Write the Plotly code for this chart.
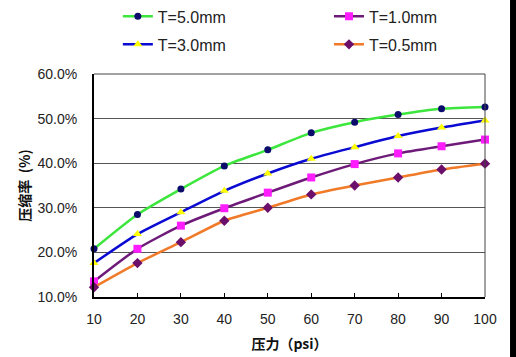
import plotly.graph_objects as go

pressure = [10, 20, 30, 40, 50, 60, 70, 80, 90, 100]
t50 = [20.8, 28.5, 34.2, 39.4, 43.0, 46.8, 49.2, 50.9, 52.2, 52.6]
t30 = [17.6, 24.1, 29.0, 33.8, 37.7, 41.0, 43.6, 46.1, 48.0, 49.6]
t10 = [13.5, 20.8, 26.0, 29.9, 33.4, 36.8, 39.8, 42.2, 43.8, 45.3]
t05 = [12.2, 17.6, 22.3, 27.1, 30.0, 33.0, 35.0, 36.8, 38.6, 39.9]
names = ["T=5.0mm", "T=1.0mm", "T=3.0mm", "T=0.5mm"]
y_ticks = [10, 20, 30, 40, 50, 60]

fig = go.Figure()
series = [
    (names[0], t50, "#3ce63c", "#0b0b6b", "circle", 7, "legend"),
    (names[1], t10, "#6e1a78", "#ff1cff", "square", 8, "legend2"),
    (names[2], t30, "#0a0ad2", "#ffff00", "triangle-up", 8, "legend3"),
    (names[3], t05, "#f07a28", "#6b0f6b", "diamond", 8, "legend4"),
]
for name, vals, lc, mc, sym, ms, lg in series:
    fig.add_trace(go.Scatter(
        x=pressure, y=vals, name=name, mode="lines+markers",
        line=dict(color=lc, width=2.5, shape="spline", smoothing=0.6),
        marker=dict(color=mc, symbol=sym, size=ms),
        cliponaxis=False, legend=lg, showlegend=True,
    ))

font = "Arial, Liberation Sans, sans-serif"
cjk = "Noto Sans CJK SC"
leg_common = dict(xanchor="left", yanchor="middle", font=dict(size=16, color="#222"),
                  bgcolor="rgba(0,0,0,0)", borderwidth=0, visible=True)
fig.update_layout(
    width=516, height=357,
    showlegend=True,
    margin=dict(l=94, r=31, t=74, b=60, autoexpand=False),
    paper_bgcolor="white", plot_bgcolor="white",
    font=dict(family=font, size=14, color="#222"),
    legend=dict(x=0.061, y=1.258, **leg_common),
    legend2=dict(x=0.601, y=1.258, **leg_common),
    legend3=dict(x=0.061, y=1.1325, **leg_common),
    legend4=dict(x=0.601, y=1.1325, **leg_common),
    xaxis=dict(range=[10, 100], tickvals=pressure, ticks="inside", ticklen=4,
               tickcolor="black", showgrid=False, showline=True, linecolor="black",
               linewidth=2, zeroline=False, tickfont=dict(size=14, color="#222"),
               ticklabelstandoff=8,
               title=dict(text="压力（psi）", font=dict(family=cjk, size=14, color="#111", weight="bold"), standoff=13)),
    yaxis=dict(range=[10, 60], tickvals=y_ticks, ticktext=[f"{v:.1f}%" for v in y_ticks],
               showgrid=True, gridcolor="#555", gridwidth=1, showline=True, linecolor="black",
               linewidth=2, zeroline=False, ticks="", tickfont=dict(size=14, color="#222"),
               ticklabelstandoff=12,
               title=dict(text="压缩率  (%)", font=dict(family=cjk, size=14, color="#111", weight="bold"), standoff=4)),
)
# top and right frame
fig.add_shape(type="line", xref="paper", yref="paper", x0=0, x1=1, y0=1, y1=1, line=dict(color="#444", width=1))
fig.add_shape(type="line", xref="paper", yref="paper", x0=1, x1=1, y0=0, y1=1, line=dict(color="#444", width=1))
# dark border strip at right edge of the picture
fig.add_shape(type="rect", xref="paper", yref="paper", x0=1.064, x1=1.08, y0=-0.3, y1=1.35,
              line=dict(width=0), fillcolor="black")

fig.write_html("out.html", config={"displayModeBar": False},
               post_script="document.body.style.margin='0';")
